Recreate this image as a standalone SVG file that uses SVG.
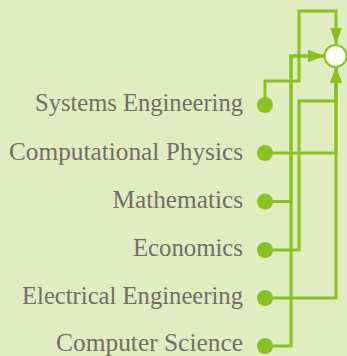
<svg xmlns="http://www.w3.org/2000/svg" width="347" height="356" viewBox="0 0 347 356">
<style>
.lbl{font-family:"Liberation Serif","Times New Roman",serif;font-size:24.5px;fill:#736e66;text-anchor:end}
.edge{fill:none;stroke:#8cc220;stroke-width:3}
.src{fill:#8cc220}
.tgt{fill:#ffffff;stroke:#8cc220;stroke-width:2}
</style>
<defs>
<marker id="arr" viewBox="0 0 16 12" refX="16" refY="6" markerWidth="16" markerHeight="12" markerUnits="userSpaceOnUse" orient="auto">
<path d="M0,0 L16,6 L0,12 Z" fill="#8cc220"/>
</marker>
</defs>
<rect x="0" y="0" width="347" height="356" fill="#dfedc1"/>
<g id="connectors">
<path class="edge" d="M265,105 V81 H299 V11 H336 V44" marker-end="url(#arr)"/>
<path class="edge" d="M265,250 H299 V101 H336 V67" marker-end="url(#arr)"/>
<path class="edge" d="M265,153 H336 V67" marker-end="url(#arr)"/>
<path class="edge" d="M265,298 H336 V67" marker-end="url(#arr)"/>
<path class="edge" d="M265,201.5 H291 V56 H324" marker-end="url(#arr)"/>
<path class="edge" d="M265,346 H291 V56 H324" marker-end="url(#arr)"/>
</g>
<g id="target"><circle class="tgt" cx="335.5" cy="56" r="11"/></g>
<g id="systems-engineering"><circle class="src" cx="265" cy="105" r="8"/><text class="lbl" x="243" y="111" textLength="208" lengthAdjust="spacingAndGlyphs">Systems Engineering</text></g>
<g id="computational-physics"><circle class="src" cx="265" cy="153" r="8"/><text class="lbl" x="243" y="159.5" textLength="234" lengthAdjust="spacingAndGlyphs">Computational Physics</text></g>
<g id="mathematics"><circle class="src" cx="265" cy="201.5" r="8"/><text class="lbl" x="243" y="207.5" textLength="130.5" lengthAdjust="spacingAndGlyphs">Mathematics</text></g>
<g id="economics"><circle class="src" cx="265" cy="250" r="8"/><text class="lbl" x="243" y="256" textLength="110" lengthAdjust="spacingAndGlyphs">Economics</text></g>
<g id="electrical-engineering"><circle class="src" cx="265" cy="298" r="8"/><text class="lbl" x="243" y="304" textLength="221" lengthAdjust="spacingAndGlyphs">Electrical Engineering</text></g>
<g id="computer-science"><circle class="src" cx="265" cy="346" r="8"/><text class="lbl" x="243" y="351" textLength="187" lengthAdjust="spacingAndGlyphs">Computer Science</text></g>
</svg>
